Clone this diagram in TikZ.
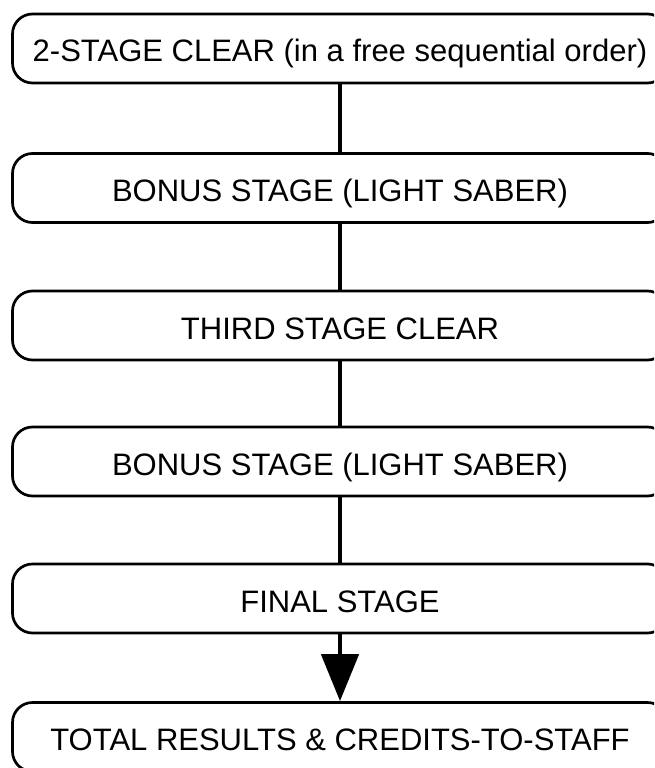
\documentclass[tikz,border=0pt]{standalone}
\usepackage{fontspec}
\setmainfont{Liberation Sans}
\usetikzlibrary{arrows.meta}
\begin{document}
\begin{tikzpicture}[x=1pt,y=-1pt,
  stagebox/.style={draw=black, line width=2.7pt, rounded corners=20pt, minimum width=655pt, minimum height=69pt, inner sep=0pt, text height=27pt, text depth=0pt, font=\fontsize{31}{36}\selectfont},
  link/.style={line width=4.7pt},
  bigarrow/.style={line width=4.7pt, -{Triangle[length=47pt,width=37pt]}}]
\useasboundingbox (0,0) rectangle (654,768);
\clip (0,0) rectangle (654,768);
\fill[white] (0,0) rectangle (654,768);
\node[stagebox] (s1) at (340,48.5) {2-STAGE CLEAR (in a free sequential order)};
\node[stagebox] (s2) at (340,188) {BONUS STAGE (LIGHT SABER)};
\node[stagebox] (s3) at (340,325.5) {THIRD STAGE CLEAR};
\node[stagebox] (s4) at (340,461.5) {BONUS STAGE (LIGHT SABER)};
\node[stagebox] (s5) at (340,598.5) {FINAL STAGE};
\node[stagebox] (s6) at (340,737) {TOTAL RESULTS \& CREDITS-TO-STAFF};
\draw[link] (s1.south) -- (s2.north);
\draw[link] (s2.south) -- (s3.north);
\draw[link] (s3.south) -- (s4.north);
\draw[link] (s4.south) -- (s5.north);
\draw[bigarrow] (s5.south) -- (s6.north);
\end{tikzpicture}
\end{document}
